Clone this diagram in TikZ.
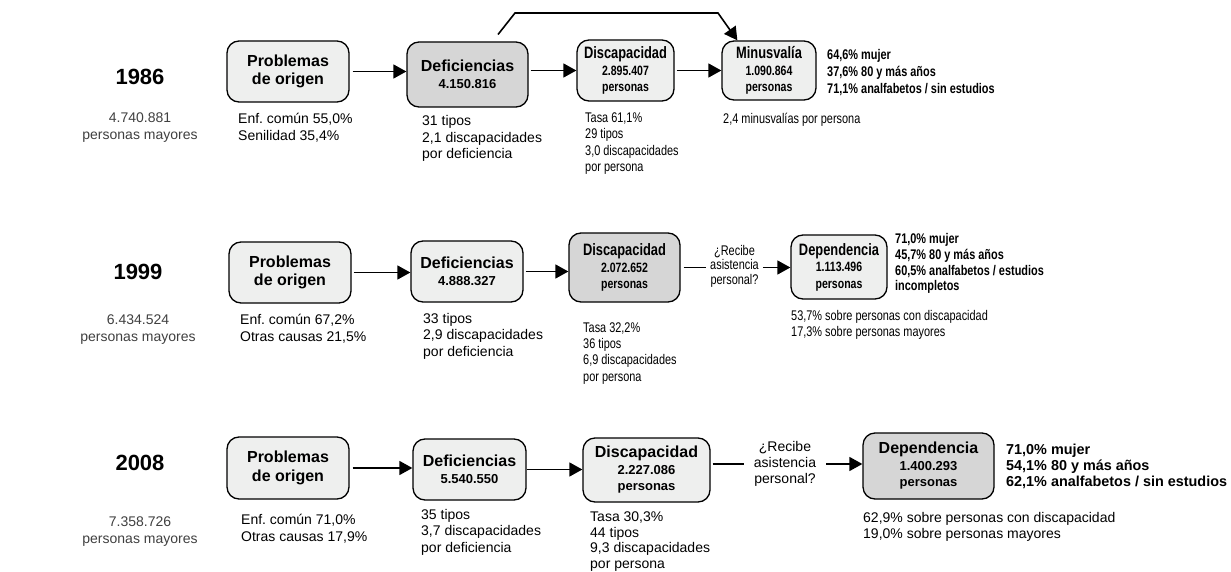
\documentclass[tikz,border=0pt]{standalone}
\usepackage{fontspec}
\setmainfont{Liberation Sans}
\newfontfamily\narfont[FakeStretch=0.78]{Liberation Sans}
\usetikzlibrary{arrows.meta,calc}
\definecolor{boxlight}{HTML}{EEEFEE}
\definecolor{boxdark}{HTML}{D6D6D6}
\definecolor{graytext}{HTML}{404040}
\frenchspacing
\newcommand\myyear{\fontsize{22}{24}\selectfont\bfseries}
\newcommand\mygray{\fontsize{14}{17}\selectfont\color{graytext}}
\newcommand\mytext{\fontsize{14}{16.5}\selectfont}
\newcommand\mytitle{\fontsize{16}{18.5}\selectfont\bfseries}
\newcommand\mybox{\fontsize{16}{16.5}\selectfont\bfseries}
\newcommand\mysub{\fontsize{13}{16.5}\selectfont}
\newcommand\nbox{\narfont\fontsize{16.5}{16.5}\selectfont\bfseries}
\newcommand\nsub{\fontsize{13.5}{16.5}\selectfont}
\newcommand\ntext{\narfont\fontsize{14}{16.3}\selectfont}
\begin{document}
\begin{tikzpicture}[x=1pt,y=-1pt,
  lbox/.style={draw, line width=1.3pt, rounded corners=12pt, fill=boxlight, align=center, inner sep=0pt},
  dbox/.style={lbox, fill=boxdark},
  arr/.style={line width=1.6pt, -{Triangle[length=13pt,width=14pt]}},
  plain/.style={line width=1.6pt},
  yearlbl/.style={font=\myyear, inner sep=0pt},
  graylbl/.style={font=\mygray, align=center, anchor=north, inner sep=0pt},
  note/.style={font=\mytext, align=left, anchor=north west, inner sep=0pt},
  nnote/.style={font=\ntext, align=left, anchor=north west, inner sep=0pt},
  nbold/.style={font=\narfont\fontsize{14}{17}\selectfont\bfseries, align=left, anchor=north west, inner sep=0pt},
  qlbl/.style={align=center, inner ysep=0pt}
]
\useasboundingbox (0,0) rectangle (1231,572);
\fill[white] (0,0) rectangle (1231,572);

% ---------------- Row 1986 ----------------
\node[yearlbl] (y1) at (140,77) {1986};
\node[graylbl] (g1) at (140,113) {4.740.881\\personas mayores};
\node[lbox, minimum width=122pt, minimum height=61pt, font=\mytitle] (p1) at (288,71.5) {Problemas\\de origen};
\node[dbox, minimum width=121pt, minimum height=65pt, font=\mybox] (d1) at (467.5,74.5) {Deficiencias\\{\mysub 4.150.816}};
\node[lbox, minimum width=97pt, minimum height=61pt, font=\nbox] (c1) at (625.5,70.5) {Discapacidad\\{\nsub 2.895.407}\\{\nsub personas}};
\node[lbox, minimum width=94pt, minimum height=59pt, font=\nbox] (m1) at (769,70.5) {Minusvalía\\{\nsub 1.090.864}\\{\nsub personas}};

\node[note] (e1) at (238,113) {Enf. común 55,0\%\\Senilidad 35,4\%};
\node[note] (f1) at (422,115.5) {31 tipos\\2,1 discapacidades\\por deficiencia};
\node[nnote] (h1) at (585,112.5) {Tasa 61,1\%\\29 tipos\\3,0 discapacidades\\por persona};
\node[nnote] (k1) at (723,112.5) {2,4 minusvalías por persona};
\node[nbold] (b1) at (827,49) {64,6\% mujer\\37,6\% 80 y más años\\71,1\% analfabetos / sin estudios};

\draw[arr, shorten <=3pt] (p1.east) -- (p1.east -| d1.west);
\draw[arr, shorten <=2pt] (c1.west -| d1.east) -- (c1.west);
\draw[arr, shorten <=2pt] (c1.east) -- (c1.east -| m1.west);
\coordinate (t0) at (498,34.5);
\coordinate (t1) at (515,13);
\coordinate (t2) at (718,13);
\draw[arr, line join=miter] (t0) -- (t1) -- (t2) -- ($(m1.north west)+(16,0)$);

% ---------------- Row 1999 ----------------
\node[yearlbl] (y2) at (138,272) {1999};
\node[graylbl] (g2) at (138,315) {6.434.524\\personas mayores};
\node[lbox, minimum width=122pt, minimum height=61pt, font=\mytitle] (p2) at (290,272.5) {Problemas\\de origen};
\node[lbox, minimum width=112pt, minimum height=61pt, font=\mybox] (d2) at (467,271.5) {Deficiencias\\{\mysub 4.888.327}};
\node[dbox, minimum width=111pt, minimum height=69pt, font=\nbox] (c2) at (624.5,267.5) {Discapacidad\\{\nsub 2.072.652}\\{\nsub personas}};
\node[qlbl, inner xsep=4pt, font=\narfont\fontsize{14}{14.5}\selectfont] (q2) at (734.5,266) {¿Recibe\\asistencia\\personal?};
\node[lbox, minimum width=96pt, minimum height=64pt, font=\nbox] (dep2) at (839,267) {Dependencia\\{\nsub 1.113.496}\\{\nsub personas}};

\node[note] (e2) at (240,314) {Enf. común 67,2\%\\Otras causas 21,5\%};
\node[note] (f2) at (423,313) {33 tipos\\2,9 discapacidades\\por deficiencia};
\node[nnote] (h2) at (583,322.3) {Tasa 32,2\%\\36 tipos\\6,9 discapacidades\\por persona};
\node[nnote] (k2) at (791,310.3) {53,7\% sobre personas con discapacidad\\17,3\% sobre personas mayores};
\node[nbold, font=\narfont\fontsize{14}{15.7}\selectfont\bfseries] (b2) at (895,233.3) {71,0\% mujer\\45,7\% 80 y más años\\60,5\% analfabetos / estudios\\incompletos};

\draw[arr, shorten <=2pt] (p2.east) -- (p2.east -| d2.west);
\draw[arr, shorten <=2pt] (d2.east) -- (d2.east -| c2.west);
\draw[plain, shorten <=3pt] (c2.east) -- (c2.east -| q2.west);
\draw[arr] (q2.east |- c2.east) -- (c2.east -| dep2.west);

% ---------------- Row 2008 ----------------
\node[yearlbl] (y3) at (140,463) {2008};
\node[graylbl] (g3) at (140,517) {7.358.726\\personas mayores};
\node[lbox, minimum width=122pt, minimum height=62pt, font=\mytitle] (p3) at (288,468) {Problemas\\de origen};
\node[lbox, minimum width=113pt, minimum height=61pt, font=\mybox] (d3) at (469.5,469.5) {Deficiencias\\{\mysub 5.540.550}};
\node[lbox, minimum width=127pt, minimum height=64pt, font=\mybox] (c3) at (646.5,470) {Discapacidad\\{\mysub 2.227.086}\\{\mysub personas}};
\node[qlbl, inner xsep=10pt, font=\fontsize{14}{16}\selectfont] (q3) at (785,464) {¿Recibe\\asistencia\\personal?};
\node[dbox, minimum width=131pt, minimum height=66pt, font=\mybox] (dep3) at (928.5,466) {Dependencia\\{\mysub 1.400.293}\\{\mysub personas}};

\node[note] (e3) at (241,514) {Enf. común 71,0\%\\Otras causas 17,9\%};
\node[note] (f3) at (421,509) {35 tipos\\3,7 discapacidades\\por deficiencia};
\node[note, font=\fontsize{14}{15.6}\selectfont] (h3) at (590,511.5) {Tasa 30,3\%\\44 tipos\\9,3 discapacidades\\por persona};
\node[note] (k3) at (863,512) {62,9\% sobre personas con discapacidad\\19,0\% sobre personas mayores};
\node[note, font=\fontsize{14.4}{16}\selectfont\bfseries] (b3) at (1006,444) {71,0\% mujer\\54,1\% 80 y más años\\62,1\% analfabetos / sin estudios};

\draw[arr, shorten <=3pt] (p3.east) -- (p3.east -| d3.west);
\draw[arr] (d3.east) -- (d3.east -| c3.west);
\draw[plain, shorten <=2pt] (c3.east |- q3.west) -- (q3.west);
\draw[arr] (q3.east) -- (q3.east -| dep3.west);
\end{tikzpicture}
\end{document}
